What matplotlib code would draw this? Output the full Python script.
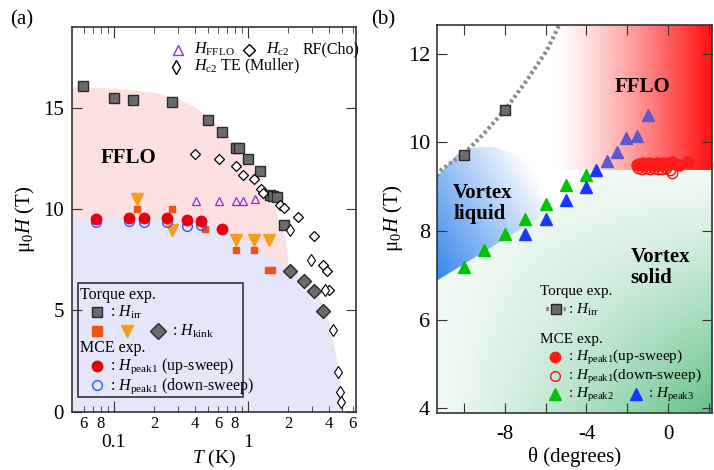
import numpy as np
import matplotlib
matplotlib.use("Agg")
from matplotlib import pyplot as plt
from matplotlib.patches import Polygon, Rectangle

plt.rcParams['font.family'] = ['Liberation Serif', 'DejaVu Serif']
plt.rcParams['mathtext.fontset'] = 'custom'
plt.rcParams['mathtext.rm'] = 'Liberation Serif'
plt.rcParams['mathtext.it'] = 'Liberation Serif:italic'
plt.rcParams['mathtext.bf'] = 'Liberation Serif:bold'

# ---------------- panel (a) data : T (K), mu0H (T) ----------------
irr_T = [0.059, 0.1, 0.139, 0.271, 0.506, 0.643, 0.82, 0.86, 1.0, 1.23, 1.46, 1.53, 1.64, 1.86]
irr_H = [16.08, 15.49, 15.39, 15.29, 14.39, 13.8, 13.01, 13.0, 12.48, 11.9, 10.69, 10.66, 10.6, 9.2]

kink_T = [2.06, 2.6, 3.1, 3.63]
kink_H = [6.96, 6.46, 5.97, 4.98]

osq_T = [0.149, 0.271, 0.475, 0.81, 1.11, 1.42, 1.52]
osq_H = [10.0, 10.0, 9.0, 7.98, 7.98, 6.99, 6.99]

otri_T = [0.148, 0.271, 0.81, 1.11, 1.43]
otri_H = [10.48, 8.96, 8.47, 8.47, 8.47]

fflo_T = [0.407, 0.608, 0.81, 0.92, 1.13]
fflo_H = [10.4, 10.4, 10.4, 10.4, 10.5]

cho_T = [0.40, 0.608, 0.81, 0.92, 1.11, 1.25, 1.30, 1.73, 1.86, 2.37, 3.1, 3.63, 3.86, 4.0]
cho_H = [12.7, 12.48, 12.12, 11.69, 11.48, 10.99, 10.8, 10.2, 10.07, 9.59, 8.67, 7.22, 6.96, 5.99]

mul_T = [2.06, 2.93, 3.76, 4.27, 4.68, 4.8, 4.9]
mul_H = [8.96, 7.48, 5.99, 4.03, 1.97, 0.99, 0.49]

up_T = [0.0738, 0.129, 0.168, 0.25, 0.352, 0.45, 0.64]
up_H = [9.5, 9.54, 9.54, 9.54, 9.46, 9.39, 9.01]

down_T = [0.0738, 0.129, 0.168, 0.25, 0.352, 0.45]
down_H = [9.37, 9.4, 9.37, 9.37, 9.18, 9.21]

# region boundaries (a)
pink_T = [0.049, 0.1, 0.2, 0.3, 0.4, 0.5, 0.65, 0.85, 1.0, 1.26, 1.46, 1.78, 1.92, 2.0, 2.02]
pink_H = [16.0, 15.95, 15.75, 15.45, 15.05, 14.6, 13.9, 13.0, 12.4, 11.3, 10.6, 9.2, 8.5, 7.4, 7.0]
blue_T = [0.049, 0.25, 0.4, 0.55, 0.7, 1.0, 1.4, 2.0, 2.25, 2.8, 3.3, 3.86, 4.1, 4.4, 4.63, 4.9, 5.1, 5.15]
blue_H = [9.55, 9.55, 9.45, 9.2, 8.9, 8.35, 7.7, 7.1, 6.95, 6.45, 5.8, 4.98, 4.0, 3.2, 2.55, 1.5, 0.5, 0.0]

# ---------------- panel (b) data : theta (deg), mu0H (T) ----------------
b_irr_th = [-10, -8]
b_irr_H = [9.72, 10.74]
b_guide_th = [-11.3, -11.05, -9.99, -9.02, -7.97, -6.91, -5.94, -5.38, -5.2]
b_guide_H = [9.24, 9.4, 9.74, 10.19, 10.74, 11.4, 12.07, 12.6, 12.7]

p2_th = [-10, -9, -8, -7, -6, -5, -4]
p2_H = [7.18, 7.56, 7.93, 8.26, 8.6, 9.03, 9.26]

p3_th = [-7, -6, -5, -4, -3.53]
p3_H = [7.94, 8.28, 8.7, 9.0, 9.38]
p3f_th = [-3.01, -2.53, -2.06, -1.54, -1.01]
p3f_H = [9.58, 9.78, 10.09, 10.15, 10.62]

b_up_th = [-1.55, -1.45, -1.35, -1.25, -1.15, -1.05, -0.95, -0.85, -0.75, -0.65, -0.55,
           -0.45, -0.35, -0.25, -0.15, -0.05, 0.05, 0.15, 0.3, 0.5, 0.95]
b_up_H = [9.48, 9.52, 9.5, 9.53, 9.49, 9.51, 9.54, 9.5, 9.52, 9.49, 9.53,
          9.51, 9.5, 9.54, 9.52, 9.5, 9.53, 9.55, 9.51, 9.5, 9.55]
b_down_th = [-1.5, -1.3, -1.1, -0.9, -0.7, -0.5, -0.3, -0.1, 0.1, 0.15]
b_down_H = [9.42, 9.4, 9.43, 9.4, 9.41, 9.39, 9.4, 9.42, 9.38, 9.3]

red_poly = [(-5.6, 9.38), (2.2, 9.38), (2.2, 12.7), (-5.6, 12.7)]
green_poly = [(-11.3, 3.9), (2.2, 3.9), (2.2, 9.38), (-3.7, 9.38), (-5.3, 8.58), (-11.3, 6.88)]
liquid_poly = [(-11.3, 6.88), (-5.3, 8.58), (-6.43, 8.84), (-6.0, 9.29), (-6.6, 9.55),
               (-7.6, 9.75), (-8.5, 9.9), (-9.5, 9.88), (-10.3, 9.74), (-11.3, 9.21)]

fig = plt.figure(figsize=(7.14, 4.7), dpi=100)

# ======================= panel (a) =======================
ax = fig.add_axes([0.101, 0.124, 0.398, 0.819])
ax.set_xscale('log')
ax.set_xlim(0.049, 6.4)
ax.set_ylim(0, 19)

ax.fill(pink_T + [2.02, 0.049], pink_H + [0, 0], color='#fde0e0', lw=0, zorder=0)
ax.fill(blue_T + [0.049], blue_H + [0], color='#e5e6fa', lw=0, zorder=0)

ax.plot(irr_T, irr_H, 's', ms=7, mfc='#6b6b6b', mec='#2a2a2a', mew=1, zorder=3)
ax.plot(kink_T, kink_H, 'D', ms=7, mfc='#6b6b6b', mec='#2a2a2a', mew=1, zorder=3)
ax.plot(osq_T, osq_H, 's', ms=5, color='#ee5316', zorder=3)
ax.plot(otri_T, otri_H, 'v', ms=8, color='#f59d1c', zorder=3)
ax.plot(fflo_T, fflo_H, '^', ms=5.5, mfc='none', mec='#8a2be2', mew=0.9, zorder=3)
ax.plot(cho_T, cho_H, 'D', ms=5, mfc='white', mec='black', mew=0.9, zorder=3)
ax.plot(mul_T, mul_H, 'd', ms=6, mfc='white', mec='black', mew=0.8, zorder=3)
ax.plot(down_T, down_H, 'o', ms=7, mfc='none', mec='#1e5cff', mew=1, zorder=3)
ax.plot(up_T, up_H, 'o', ms=7.5, color='#e8000e', zorder=4)

ax.set_xticks([0.1, 1])
ax.set_xticklabels(['0.1', '1'])
minor = [0.06, 0.07, 0.08, 0.09, 0.2, 0.3, 0.4, 0.5, 0.6, 0.7, 0.8, 0.9, 2, 3, 4, 5, 6]
minor_lab = ['6', '', '8', '', '2', '', '4', '', '6', '', '8', '', '2', '', '4', '', '6']
ax.set_xticks(minor, minor=True)
ax.set_xticklabels(minor_lab, minor=True)
ax.set_yticks([0, 5, 10, 15])
ax.tick_params(which='both', direction='in', top=True, right=True, color='#333333')
ax.tick_params(which='major', axis='x', length=8, pad=16, labelsize=14)
ax.tick_params(which='minor', axis='x', length=4, pad=3, labelsize=12)
ax.tick_params(which='major', axis='y', length=7, labelsize=15, pad=6)
for s in ax.spines.values():
    s.set_color('#333333')
    s.set_linewidth(1.2)
ax.set_xlabel('$T$ (K)', fontsize=14, labelpad=-2)
ax.set_ylabel(r'$\mathrm{μ}_0H$ (T)', fontsize=15, labelpad=4)

ax.text(0.199, 0.658, 'FFLO', transform=ax.transAxes, fontsize=15, fontweight='bold',
        ha='center', va='center')

# top legend
tr = ax.transAxes
fs = 11.5
ax.plot([0.374], [0.941], '^', ms=7, mfc='none', mec='#8a2be2', mew=1, transform=tr)
ax.text(0.43, 0.941, r'$H_{\rm FFLO}$', transform=tr, fontsize=fs, va='center')
ax.plot([0.624], [0.941], 'D', ms=6.5, mfc='white', mec='black', mew=1, transform=tr)
ax.text(0.683, 0.941, r'$H_{\rm c2}$', transform=tr, fontsize=fs, va='center')
ax.text(0.81, 0.941, 'RF(Cho)', transform=tr, fontsize=fs, va='center')
ax.plot([0.364], [0.896], 'd', ms=7, mfc='white', mec='black', mew=1, transform=tr)
ax.text(0.43, 0.896, r'$H_{\rm c2}$ TE (Muller)', transform=tr, fontsize=fs, va='center')

# boxed legend
ax.add_patch(Rectangle((0.02, 0.038), 0.582, 0.296, transform=tr, fill=False,
                       ec='#333333', lw=1.2, zorder=5))
ax.text(0.027, 0.303, 'Torque exp.', transform=tr, fontsize=fs, va='center', zorder=6)
ax.plot([0.086], [0.258], 's', ms=7, mfc='#6b6b6b', mec='#2a2a2a', transform=tr, zorder=6)
ax.text(0.135, 0.258, ': $H_{\\rm irr}$', transform=tr, fontsize=fs, va='center', zorder=6)
ax.plot([0.086], [0.21], 's', ms=7, color='#ee5316', transform=tr, zorder=6)
ax.plot([0.192], [0.21], 'v', ms=9, color='#f59d1c', transform=tr, zorder=6)
ax.plot([0.303], [0.21], 'D', ms=8, mfc='#6b6b6b', mec='#2a2a2a', transform=tr, zorder=6)
ax.text(0.352, 0.208, ': $H_{\\rm kink}$', transform=tr, fontsize=fs, va='center', zorder=6)
ax.text(0.027, 0.165, 'MCE exp.', transform=tr, fontsize=fs, va='center', zorder=6)
ax.plot([0.086], [0.119], 'o', ms=7.5, color='#e8000e', transform=tr, zorder=6)
ax.text(0.135, 0.117, ': $H_{\\rm peak1}$ (up-sweep)', transform=tr, fontsize=fs,
        va='center', zorder=6)
ax.plot([0.086], [0.069], 'o', ms=7, mfc='none', mec='#1e5cff', mew=1, transform=tr, zorder=6)
ax.text(0.135, 0.067, ': $H_{\\rm peak1}$ (down-sweep)', transform=tr, fontsize=fs,
        va='center', zorder=6)

fig.text(0.031, 0.957, '(a)', fontsize=15, ha='center', va='center')

# ======================= panel (b) =======================
bx = fig.add_axes([0.612, 0.122, 0.385, 0.825])
bx.set_xlim(-11.3, 2.12)
bx.set_ylim(3.9, 12.65)
ext = (-11.3, 2.2, 3.9, 12.7)
gx, gy = np.meshgrid(np.linspace(-11.3, 2.2, 300), np.linspace(12.7, 3.9, 300))


def gradient(rgb, alpha):
    img = np.zeros(gx.shape + (4,))
    img[..., 0] = rgb[0]
    img[..., 1] = rgb[1]
    img[..., 2] = rgb[2]
    img[..., 3] = np.clip(alpha, 0, 1)
    return img


def shade(poly, img):
    p = Polygon(poly, closed=True, fc='none', ec='none', transform=bx.transData)
    bx.add_patch(p)
    im = bx.imshow(img, extent=ext, aspect='auto', interpolation='bilinear', zorder=0)
    im.set_clip_path(p)


u = (gx + 11.3) / 13.4
v = (9.38 - gy) / 5.5
shade(green_poly, gradient((0.33, 0.74, 0.5), 0.08 + 0.85 * np.clip(u * v, 0, 1) ** 1.2))
shade(red_poly, gradient((1.0, 0.05, 0.05), np.clip((gx + 5.6) / 7.4, 0, 1) ** 1.3 * 0.95))
shade(liquid_poly, gradient((0.2, 0.52, 0.93),
                            1 - (gx + 11.3) / 6.5 * 0.8 - (gy - 6.88) / 3.0 * 0.5))

bx.plot(b_guide_th, b_guide_H, color='#8c8c8c', lw=3, ls=(0, (0.7, 0.7)), zorder=2)
bx.plot(b_irr_th, b_irr_H, 's', ms=7.5, mfc='#6b6b6b', mec='#2a2a2a', mew=1, zorder=3)
bx.plot(p2_th, p2_H, '^', ms=8.5, color='#00c400', zorder=3)
bx.plot(p3_th, p3_H, '^', ms=8.5, color='#1638ff', zorder=3)
bx.plot(p3f_th, p3f_H, '^', ms=8.5, color='#6157d0', zorder=3)
bx.plot(b_down_th, b_down_H, 'o', ms=7.5, mfc='none', mec='#ee1111', mew=1, zorder=3)
bx.plot(b_up_th, b_up_H, 'o', ms=8, color='#ff1a1a', zorder=4)

bx.set_xticks([-10, -8, -6, -4, -2, 0, 2])
bx.set_xticklabels(['', '-8', '', '-4', '', '0', ''])
bx.set_yticks([4, 6, 8, 10, 12])
bx.tick_params(direction='in', top=True, right=True, length=7, color='#333333')
bx.tick_params(axis='x', labelsize=15, pad=9)
bx.tick_params(axis='y', labelsize=16, pad=5)
for s in bx.spines.values():
    s.set_color('#333333')
    s.set_linewidth(1.2)
bx.set_xlabel('θ (degrees)', fontsize=15, labelpad=2)
bx.set_ylabel(r'$\mathrm{μ}_0H$ (T)', fontsize=15, labelpad=2)

tb = bx.transAxes
fs = 11
bx.text(0.748, 0.84, 'FFLO', transform=tb, fontsize=15, fontweight='bold', ha='center', va='center')
bx.text(0.059, 0.54, 'Vortex\nliquid', transform=tb, fontsize=15, fontweight='bold',
        ha='left', va='center', linespacing=1.1)
bx.text(0.704, 0.374, 'Vortex\nsolid', transform=tb, fontsize=15, fontweight='bold',
        ha='left', va='center', linespacing=1.1)

bx.text(0.374, 0.312, 'Torque exp.', transform=tb, fontsize=fs, va='center')
bx.plot([0.396, 0.468], [0.267, 0.267], color='#8c8c8c', lw=3, ls=(0, (0.7, 0.7)), transform=tb)
bx.plot([0.432], [0.267], 's', ms=7, mfc='#6b6b6b', mec='#2a2a2a', transform=tb)
bx.text(0.476, 0.265, ': $H_{\\rm irr}$', transform=tb, fontsize=fs, va='center')
bx.text(0.374, 0.1875, 'MCE exp.', transform=tb, fontsize=fs, va='center')
bx.plot([0.428], [0.143], 'o', ms=7.5, color='#ff1a1a', transform=tb)
bx.text(0.476, 0.141, ': $H_{\\rm peak1}$(up-sweep)', transform=tb, fontsize=fs, va='center')
bx.plot([0.428], [0.095], 'o', ms=7, mfc='none', mec='#ee1111', mew=1, transform=tb)
bx.text(0.476, 0.093, ': $H_{\\rm peak1}$(down-sweep)', transform=tb, fontsize=fs, va='center')
bx.plot([0.428], [0.048], '^', ms=8, color='#00c400', transform=tb)
bx.text(0.476, 0.046, ': $H_{\\rm peak2}$', transform=tb, fontsize=fs, va='center')
bx.plot([0.724], [0.048], '^', ms=8, color='#1638ff', transform=tb)
bx.text(0.768, 0.046, ': $H_{\\rm peak3}$', transform=tb, fontsize=fs, va='center')

fig.text(0.536, 0.957, '(b)', fontsize=15, ha='center', va='center')

fig.savefig('out.png', dpi=100)
